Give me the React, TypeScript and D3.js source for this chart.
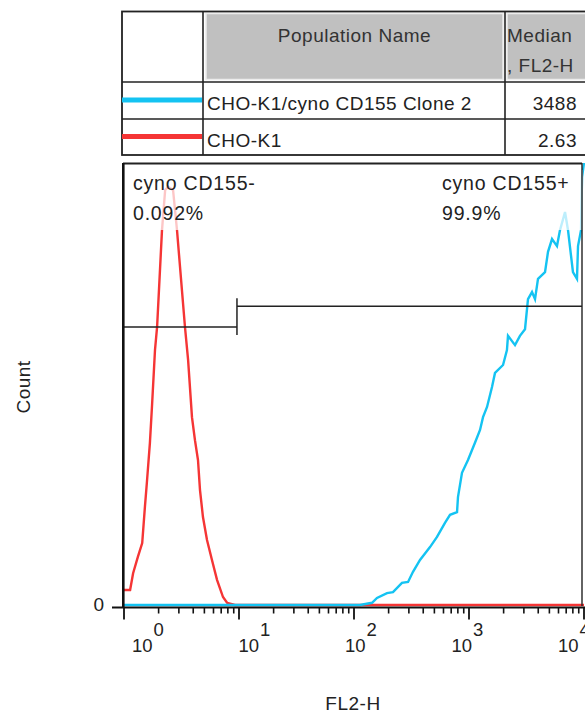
import React from "react";
import * as d3 from "d3";

// ---- data ----
const populations = ["CHO-K1/cyno CD155 Clone 2", "CHO-K1"];
const medians = ["3488", "2.63"];
const seriesColors = ["#14C3F2", "#F53535"];

// CHO-K1 (red) histogram: FL2-H value, count (% of max)
const redFL2 = [1, 1.13, 1.2, 1.32, 1.44, 1.52, 1.58, 1.68, 1.75, 1.86, 1.94, 2.14, 2.28, 2.42, 2.67, 2.89, 3.39, 3.61, 3.9, 4.14, 4.4, 4.58, 4.86, 5.27, 5.82, 6.44, 7.26, 7.87, 9.23, 10000];
const redCount = [3.4, 3.4, 7.2, 10.9, 14.0, 22.2, 27.6, 36.7, 44.8, 57.7, 62.9, 84.8, 93.9, 94.6, 93.9, 84.8, 62.9, 55.4, 42.5, 37.3, 32.8, 26.0, 19.9, 14.7, 10.2, 5.7, 1.8, 0.5, 0, 0];

// Clone 2 (blue) histogram
const blueFL2 = [1, 112.7, 143.5, 158.5, 193.6, 218.3, 261.2, 295.1, 325.8, 375, 458, 527, 618, 684, 787, 802, 869, 980, 1127, 1247, 1324, 1435, 1585, 1683, 1977, 2138, 2183, 2512, 2773, 3069, 3258, 3532, 3750, 3981, 4581, 4864, 5272, 5821, 6180, 6839, 7261, 8017, 8690, 8872, 9419, 9616, 10000, 10600];
const blueCount = [0, 0, 0.5, 1.6, 2.7, 2.9, 5.0, 5.2, 7.5, 10.2, 13.1, 15.4, 18.6, 20.4, 21.0, 24.4, 29.9, 32.8, 36.7, 39.6, 42.5, 44.8, 49.3, 52.5, 54.3, 57.7, 60.9, 58.8, 60.9, 62.4, 69.2, 70.8, 69.2, 73.8, 75.3, 79.9, 82.8, 81.2, 84.8, 88.9, 84.8, 75.3, 73.8, 81.2, 84.8, 96.8, 100, 110];

// gates
const gateNames = ["cyno CD155-", "cyno CD155+"];
const gatePercents = ["0.092%", "99.9%"];
const gateFrom = [1, 9.6];
const gateTo = [9.6, 10000];
const gateLevel = [62.9, 67.6];

const majorTicks = [1, 10, 100, 1000, 10000];
const majorExp = ["0", "1", "2", "3", "4"];
const minorTicks: number[] = [];
for (let e = 0; e < 4; e++) for (let m = 2; m <= 9; m++) minorTicks.push(m * Math.pow(10, e));

const FONT = "'Liberation Sans', Arial, sans-serif";

export default function App() {
  const W = 585, H = 715;
  const x = d3.scaleLog().domain([1, 10000]).range([124, 584]);
  const y = d3.scaleLinear().domain([0, 100]).range([605, 163]);
  const labelX = d3.scaleLinear().domain([0, 4]).range([132, 558]);

  const line = d3.line<[number, number]>().x(d => x(d[0])).y(d => y(d[1])).curve(d3.curveLinear);
  const redPts = redFL2.map((v, i) => [v, redCount[i]] as [number, number]);
  const bluePts = blueFL2.map((v, i) => [v, blueCount[i]] as [number, number]);

  const axisY = 607.5;
  const fs = 19;
  const ls = 0.5;
  const gfs = 19.5;
  const gls = 0.8;

  return (
    <svg width={W} height={H} style={{ position: "absolute", left: 0, top: 0, background: "#fff" }} fontFamily={FONT}>
      <rect x={0} y={0} width={W} height={H} fill="#fff" />
      {/* ---- table ---- */}
      <g>
        <rect x={206} y={13.5} width={297} height={66} fill="#c0c0c0" stroke="#ececec" strokeWidth={1.5} />
        <rect x={507} y={13.5} width={82} height={66} fill="#c0c0c0" stroke="#ececec" strokeWidth={1.5} />
        <rect x={122} y={11.5} width={470} height={143.5} fill="none" stroke="#222" strokeWidth={1.8} />
        <line x1={122} x2={590} y1={82} y2={82} stroke="#222" strokeWidth={1.6} />
        <line x1={122} x2={590} y1={119} y2={119} stroke="#222" strokeWidth={1.6} />
        <line x1={203} x2={203} y1={11.5} y2={155} stroke="#222" strokeWidth={1.6} />
        <line x1={505} x2={505} y1={11.5} y2={155} stroke="#222" strokeWidth={1.6} />
        <text x={354.5} y={42} textAnchor="middle" fontSize={fs} letterSpacing={ls} fill="#333">Population Name</text>
        <text x={507} y={42} fontSize={fs} letterSpacing={ls} fill="#333">Median</text>
        <text x={507} y={72} fontSize={fs} letterSpacing={ls} fill="#333">, FL2-H</text>
        {populations.map((p, i) => (
          <g key={p}>
            <line x1={122} x2={202} y1={100 + i * 36.5} y2={100 + i * 36.5} stroke={seriesColors[i]} strokeWidth={5} />
            <text x={207} y={110 + i * 37} fontSize={fs} letterSpacing={ls} fill="#222">{p}</text>
            <text x={577} y={110 + i * 37} fontSize={fs} letterSpacing={ls} fill="#222" textAnchor="end">{medians[i]}</text>
          </g>
        ))}
      </g>

      {/* ---- plot ---- */}
      <defs>
        <clipPath id="plotclip">
          <rect x={124} y={163} width={470} height={445} />
        </clipPath>
      </defs>
      <g clipPath="url(#plotclip)">
        <path d={line(redPts) || ""} fill="none" stroke={seriesColors[1]} strokeWidth={2.4} />
        <path d={line(bluePts) || ""} fill="none" stroke={seriesColors[0]} strokeWidth={2.4} />
      </g>

      {/* gates */}
      {gateFrom.map((g, i) => (
        <g key={i}>
          <line x1={x(g)} x2={Math.min(x(gateTo[i]), 582)} y1={y(gateLevel[i])} y2={y(gateLevel[i])} stroke="#222" strokeWidth={1.5} />
        </g>
      ))}
      <line x1={x(gateTo[0])} x2={x(gateTo[0])} y1={y(gateLevel[1]) - 8} y2={y(gateLevel[0]) + 8} stroke="#222" strokeWidth={1.5} />

      {/* gate labels with translucent background */}
      <rect x={128} y={170} width={135} height={60} fill="#fff" opacity={0.72} />
      <rect x={437} y={170} width={146} height={60} fill="#fff" opacity={0.72} />
      <text x={133} y={190} fontSize={gfs} letterSpacing={gls} fill="#222">{gateNames[0]}</text>
      <text x={133} y={220} fontSize={gfs} letterSpacing={gls} fill="#222">{gatePercents[0]}</text>
      <text x={442} y={190} fontSize={gfs} letterSpacing={gls} fill="#222">{gateNames[1]}</text>
      <text x={442} y={220} fontSize={gfs} letterSpacing={gls} fill="#222">{gatePercents[1]}</text>

      {/* frame */}
      <line x1={123} x2={582} y1={163.5} y2={163.5} stroke="#222" strokeWidth={1.8} />
      <line x1={582} x2={582} y1={163} y2={606} stroke="#222" strokeWidth={1.4} />
      <line x1={123.3} x2={123.3} y1={163} y2={608} stroke="#111" strokeWidth={2.6} />

      {/* x axis */}
      <line x1={112} x2={585} y1={axisY} y2={axisY} stroke="#111" strokeWidth={2.2} />
      {minorTicks.map(t => (
        <line key={"m" + t} x1={x(t)} x2={x(t)} y1={axisY} y2={axisY + 6} stroke="#111" strokeWidth={1.6} />
      ))}
      {majorTicks.map(t => (
        <line key={"M" + t} x1={x(t)} x2={x(t)} y1={axisY} y2={axisY + 12} stroke="#111" strokeWidth={1.8} />
      ))}
      {majorTicks.map((t, i) => (
        <text key={"L" + t} x={labelX(i)} y={652} fontSize={18.5} fill="#222">
          10<tspan dy={-16} dx={1}>{majorExp[i]}</tspan>
        </text>
      ))}
      <text x={353} y={710} textAnchor="middle" fontSize={fs} letterSpacing={ls} fill="#222">FL2-H</text>

      {/* y axis */}
      <text x={104} y={611} textAnchor="end" fontSize={fs} fill="#222">0</text>
      <text transform="translate(30,387) rotate(-90)" textAnchor="middle" fontSize={fs} letterSpacing={ls} fill="#222">Count</text>
    </svg>
  );
}
